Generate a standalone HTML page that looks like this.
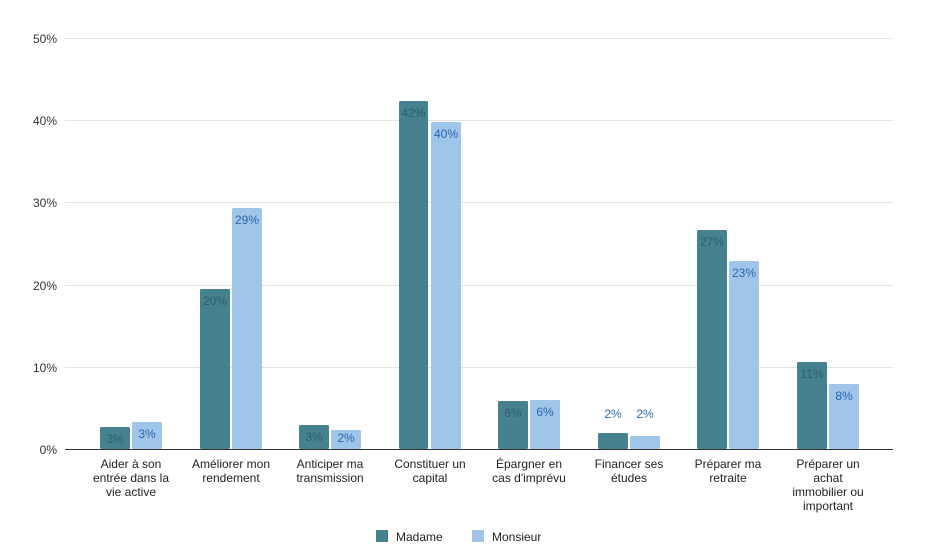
<!DOCTYPE html>
<html><head><meta charset="utf-8"><style>
body{margin:0;background:#fff;}
svg{display:block;font-family:"Liberation Sans",Arial,sans-serif;}
</style></head><body>
<svg width="947" height="557" xmlns="http://www.w3.org/2000/svg">
<g stroke="#e3e3e3" stroke-width="1">
<line x1="65" y1="38.5" x2="893" y2="38.5"/>
<line x1="65" y1="120.5" x2="893" y2="120.5"/>
<line x1="65" y1="202.5" x2="893" y2="202.5"/>
<line x1="65" y1="285.5" x2="893" y2="285.5"/>
<line x1="65" y1="367.5" x2="893" y2="367.5"/>
</g>
<g font-size="12" fill="#333" text-anchor="end">
<text x="57" y="43">50%</text>
<text x="57" y="125">40%</text>
<text x="57" y="207">30%</text>
<text x="57" y="290">20%</text>
<text x="57" y="372">10%</text>
<text x="57" y="454">0%</text>
</g>
<g fill="#45818e">
<rect x="100" y="427" width="30" height="22" rx="1.5"/>
<rect x="200" y="289" width="30" height="160" rx="1.5"/>
<rect x="299" y="425" width="30" height="24" rx="1.5"/>
<rect x="399" y="101" width="29" height="348" rx="1.5"/>
<rect x="498" y="401" width="30" height="48" rx="1.5"/>
<rect x="598" y="433" width="30" height="16" rx="1.5"/>
<rect x="697" y="230" width="30" height="219" rx="1.5"/>
<rect x="797" y="362" width="30" height="87" rx="1.5"/>
</g>
<g fill="#9fc5e8">
<rect x="132" y="422" width="30" height="27" rx="1.5"/>
<rect x="232" y="208" width="30" height="241" rx="1.5"/>
<rect x="331" y="430" width="30" height="19" rx="1.5"/>
<rect x="431" y="122" width="30" height="327" rx="1.5"/>
<rect x="530" y="400" width="30" height="49" rx="1.5"/>
<rect x="630" y="436" width="30" height="13" rx="1.5"/>
<rect x="729" y="261" width="30" height="188" rx="1.5"/>
<rect x="829" y="384" width="30" height="65" rx="1.5"/>
</g>
<line x1="65" y1="449.5" x2="893" y2="449.5" stroke="#333" stroke-width="1"/>
<g font-size="12" text-anchor="middle" fill="#2b5f69">
<text x="115" y="443">3%</text>
<text x="215" y="305">20%</text>
<text x="314" y="441">3%</text>
<text x="413.5" y="117">42%</text>
<text x="513" y="417">6%</text>
<text x="712" y="246">27%</text>
<text x="812" y="378">11%</text>
</g>
<g font-size="12" text-anchor="middle" fill="#2a66b0">
<text x="147" y="438">3%</text>
<text x="247" y="224">29%</text>
<text x="346" y="442">2%</text>
<text x="446" y="138">40%</text>
<text x="545" y="416">6%</text>
<text x="613" y="418">2%</text>
<text x="645" y="418">2%</text>
<text x="744" y="277">23%</text>
<text x="844" y="400">8%</text>
</g>
<g font-size="12" text-anchor="middle" fill="#222">
<text x="131" y="468">Aider à son</text><text x="131" y="482">entrée dans la</text><text x="131" y="496">vie active</text>
<text x="231" y="468">Améliorer mon</text><text x="231" y="482">rendement</text>
<text x="330" y="468">Anticiper ma</text><text x="330" y="482">transmission</text>
<text x="430" y="468">Constituer un</text><text x="430" y="482">capital</text>
<text x="529" y="468">Épargner en</text><text x="529" y="482">cas d'imprévu</text>
<text x="629" y="468">Financer ses</text><text x="629" y="482">études</text>
<text x="728" y="468">Préparer ma</text><text x="728" y="482">retraite</text>
<text x="828" y="468">Préparer un</text><text x="828" y="482">achat</text><text x="828" y="496">immobilier ou</text><text x="828" y="510">important</text>
</g>
<rect x="376" y="530" width="12" height="12" fill="#45818e"/>
<text x="396" y="541" font-size="12" fill="#222">Madame</text>
<rect x="472" y="530" width="12" height="12" fill="#9fc5e8"/>
<text x="492" y="541" font-size="12" fill="#222">Monsieur</text>
</svg>
</body></html>
